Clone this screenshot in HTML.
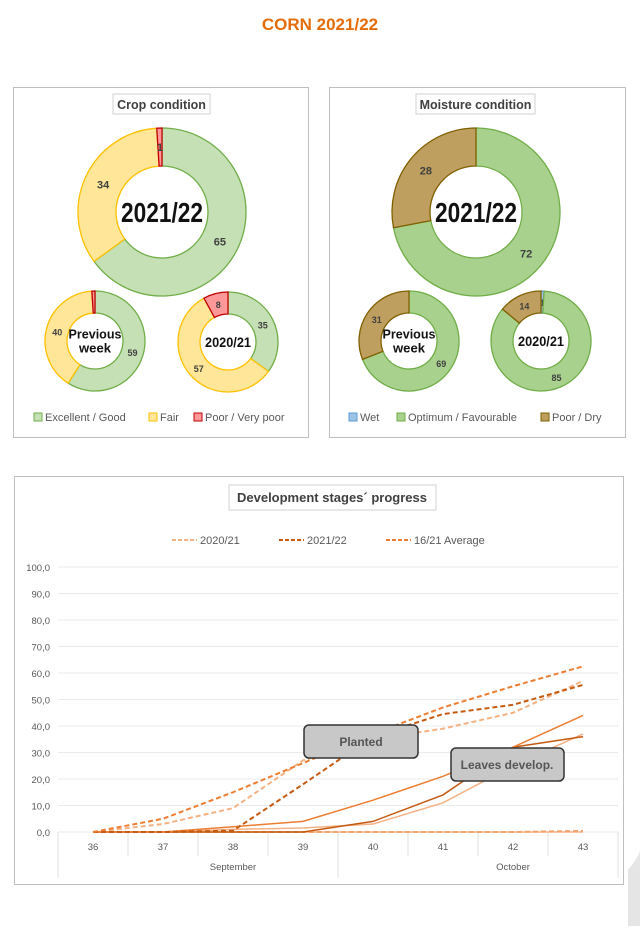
<!DOCTYPE html>
<html><head><meta charset="utf-8"><style>
body{margin:0;background:#fff;width:640px;height:926px;overflow:hidden;font-family:"Liberation Sans",sans-serif}
svg text{font-family:"Liberation Sans","DejaVu Sans",sans-serif}
</style></head><body>
<svg id="s" width="640" height="926" viewBox="0 0 640 926" xmlns="http://www.w3.org/2000/svg">
<text x="320" y="30" text-anchor="middle" font-size="17" font-weight="bold" fill="#e46c0a">CORN 2021/22</text>
<rect x="13.5" y="87.5" width="295" height="350" fill="#fff" stroke="#bfbfbf"/>
<rect x="329.5" y="87.5" width="296" height="350" fill="#fff" stroke="#bfbfbf"/>
<rect x="113" y="94" width="97" height="20" fill="#fff" stroke="#d0d0d0"/>
<text x="161.5" y="109" text-anchor="middle" font-size="12.5" font-weight="bold" fill="#404040">Crop condition</text>
<rect x="416" y="94" width="119" height="20" fill="#fff" stroke="#d0d0d0"/>
<text x="475.5" y="109" text-anchor="middle" font-size="12.5" font-weight="bold" fill="#404040">Moisture condition</text>
<g id="donuts"></g>
<g font-size="11" fill="#595959">
<rect x="34" y="413" width="8" height="8" fill="#c5e0b4" stroke="#70ad47"/><text x="45" y="421">Excellent / Good</text>
<rect x="149" y="413" width="8" height="8" fill="#ffe699" stroke="#ffc000"/><text x="160" y="421">Fair</text>
<rect x="194" y="413" width="8" height="8" fill="#ff9999" stroke="#c00000"/><text x="205" y="421">Poor / Very poor</text>
<rect x="349" y="413" width="8" height="8" fill="#9dc3e6" stroke="#5b9bd5"/><text x="360" y="421">Wet</text>
<rect x="397" y="413" width="8" height="8" fill="#a9d18e" stroke="#70ad47"/><text x="408" y="421">Optimum / Favourable</text>
<rect x="541" y="413" width="8" height="8" fill="#bf9f5f" stroke="#7f6000"/><text x="552" y="421">Poor / Dry</text>
</g>
<rect x="14.5" y="476.5" width="609" height="408" fill="#fff" stroke="#bfbfbf"/>
<rect x="229" y="485" width="207" height="25" fill="#fff" stroke="#d0d0d0"/>
<text x="332" y="502" text-anchor="middle" font-size="13" font-weight="bold" fill="#404040">Development stages´ progress</text>
<g font-size="11" fill="#595959">
<line x1="172" y1="540" x2="197" y2="540" stroke="#f4b183" stroke-width="2" stroke-dasharray="4,2"/><text x="200" y="544">2020/21</text>
<line x1="279" y1="540" x2="304" y2="540" stroke="#c55a11" stroke-width="2" stroke-dasharray="4,2"/><text x="307" y="544">2021/22</text>
<line x1="386" y1="540" x2="411" y2="540" stroke="#ed7d31" stroke-width="2" stroke-dasharray="4,2"/><text x="414" y="544">16/21 Average</text>
</g>
<g id="chart"></g>
<rect x="304" y="725" width="114" height="33" rx="5" fill="#c8c8c8" stroke="#333" stroke-width="1.5"/>
<text x="361" y="746" text-anchor="middle" font-size="12" font-weight="bold" fill="#555">Planted</text>
<rect x="451" y="748" width="113" height="33" rx="5" fill="#c8c8c8" stroke="#333" stroke-width="1.5"/>
<text x="507" y="769" text-anchor="middle" font-size="12" font-weight="bold" fill="#555">Leaves develop.</text>
<path d="M628 870 Q640 855 640 850 L640 926 L628 926 Z" fill="#e5e5e5"/>
</svg>
<script>
var NS="http://www.w3.org/2000/svg";
function el(p,t,a,txt){var e=document.createElementNS(NS,t);for(var k in a)e.setAttribute(k,a[k]);if(txt!=null)e.textContent=txt;p.appendChild(e);return e;}
var D=document.getElementById("donuts");
function pt(cx,cy,r,f){var a=f*2*Math.PI-Math.PI/2;return [cx+r*Math.cos(a),cy+r*Math.sin(a)];}
function donut(cx,cy,R,r,vals,fills,strokes,labels,fs,center,cfs,tl){
 var tot=vals.reduce(function(a,b){return a+b},0),acc=0;
 vals.forEach(function(v,i){
  var f0=acc/tot,f1=(acc+v)/tot;acc+=v;
  if(v>0){var la=(f1-f0)>0.5?1:0;
  var a=pt(cx,cy,R,f0),b=pt(cx,cy,R,f1),c=pt(cx,cy,r,f1),d=pt(cx,cy,r,f0);
  el(D,"path",{d:"M"+a+" A"+R+","+R+" 0 "+la+" 1 "+b+" L"+c+" A"+r+","+r+" 0 "+la+" 0 "+d+" Z",fill:fills[i],stroke:strokes[i],"stroke-width":1.3});}
  if(labels[i]!=null){var m=pt(cx,cy,(R+r)/2,(f0+f1)/2);el(D,"text",{x:m[0],y:m[1]+4,"text-anchor":"middle","font-size":fs,"font-weight":"bold",fill:"#404040"},labels[i]);}
 });
 center.forEach(function(t,i){var a={x:cx,y:cy+cfs*0.36+(i-(center.length-1)/2)*cfs*1.15,"text-anchor":"middle","font-size":cfs,"font-weight":"bold",fill:"#111"};
  if(tl){a.textLength=tl[i];a.lengthAdjust="spacingAndGlyphs";}
  el(D,"text",a,t);});
}
var cf=["#c5e0b4","#ffe699","#ff9999"],cs=["#70ad47","#ffc000","#c00000"];
donut(162,212,84,46,[65,34,1],cf,cs,["65","34","1"],11,["2021/22"],28,[82]);
donut(95,341,50,28,[59,40,1],cf,cs,["59","40",""],9,["Previous","week"],12.5,[53,32]);
donut(228,342,50,28,[35,57,8],cf,cs,["35","57","8"],9,["2020/21"],14,[46]);
var mf=["#9dc3e6","#a9d18e","#bf9f5f"],ms=["#5b9bd5","#70ad47","#7f6000"];
donut(476,212,84,46,[0,72,28],mf,ms,[null,"72","28"],11,["2021/22"],28,[82]);
donut(409,341,50,28,[0,69,31],mf,ms,[null,"69","31"],9,["Previous","week"],12.5,[53,32]);
donut(541,341,50,28,[1,85,14],mf,ms,["1","85","14"],9,["2020/21"],14,[46]);
var C=document.getElementById("chart");
function X(i){return 93+i*70;}function Y(v){return 832-v*2.65;}
for(var g=0;g<=10;g++){var y=Y(g*10);el(C,"line",{x1:58,x2:618,y1:y,y2:y,stroke:"#ebebeb"});
 el(C,"text",{x:50,y:y+4,"text-anchor":"end","font-size":9.5,fill:"#595959"},(g*10)+",0");}
for(var i=0;i<8;i++){el(C,"text",{x:X(i),y:850,"text-anchor":"middle","font-size":9.5,fill:"#595959"},36+i);
 el(C,"line",{x1:X(i)-35,x2:X(i)-35,y1:832,y2:i==0||i==4?878:856,stroke:"#e0e0e0"});}
el(C,"line",{x1:X(7)+35,x2:X(7)+35,y1:832,y2:878,stroke:"#e0e0e0"});
el(C,"text",{x:233,y:870,"text-anchor":"middle","font-size":9.5,fill:"#595959"},"September");
el(C,"text",{x:513,y:870,"text-anchor":"middle","font-size":9.5,fill:"#595959"},"October");
function line(v,col,dash,w){el(C,"polyline",{points:v.map(function(d,i){return X(i)+","+Y(d)}).join(" "),fill:"none",stroke:col,"stroke-width":w,"stroke-dasharray":dash||"none"});}
line([0,0,0,0,0,0,0,0.3],"#ed7d31","5,3",2);
line([0,0,0,0,0,0,0,0],"#f4b183","",1.5);
line([0,0,1,1.5,3,11,25,37],"#f4b183","",1.5);
line([0,0,0,0,4,14,32,36],"#c55a11","",1.5);
line([0,0,2,4,12,21,32,44],"#ed7d31","",1.5);
line([0,3,9,27,35,39,45,57],"#f4b183","5,3",2);
line([0,0,0.5,18,36,44.5,48,55.5],"#c55a11","5,3",2);
line([0,5,15,26,37,47,55,62.5],"#ed7d31","5,3",2);
</script>
</body></html>
